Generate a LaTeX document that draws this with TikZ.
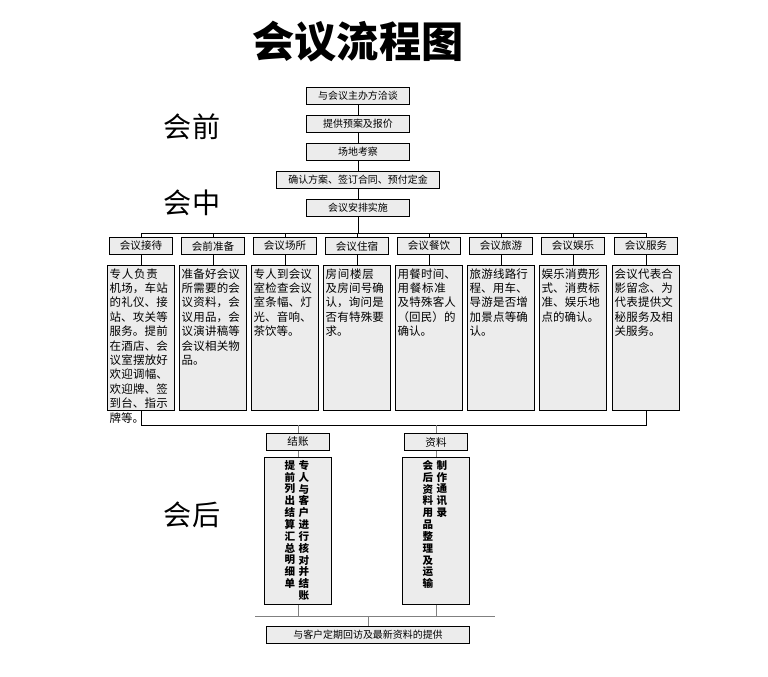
\documentclass[tikz,border=0pt]{standalone}
\usepackage{fontspec}
\setmainfont{Noto Sans CJK SC}
\XeTeXlinebreaklocale "zh"
\XeTeXlinebreakskip=0pt plus 1pt
\tikzset{
  stage/.style={draw=black, thick, fill=gray!15, minimum height=14pt, inner sep=1pt, font=\fontsize{8.5}{10}\selectfont},
  head/.style={draw=black, thick, fill=gray!15, minimum width=1.9cm, minimum height=14pt, inner sep=1pt, font=\fontsize{9}{10}\selectfont},
  body/.style={draw=black, thick, fill=gray!15, minimum width=2.0cm, minimum height=4.35cm, anchor=north, inner sep=0pt},
  bodytext/.style={text width=1.88cm, align=left, anchor=north, inner sep=1pt, font=\fontsize{9.8}{12.3}\selectfont},
  vcol/.style={anchor=north, align=center, inner sep=0pt, font=\fontsize{9}{10.1}\selectfont\bfseries},
  phase/.style={font=\fontsize{24}{26}\selectfont},
}
\begin{document}
\begin{tikzpicture}[x=0.03cm, y=-0.03cm]
  \useasboundingbox (0,0) rectangle (768,676);
  \node[font=\fontsize{36}{38}\selectfont\bfseries](title) at (358,42){会议流程图};
  \node[phase](pre) at (192,127){会前};
  \node[phase](mid) at (192,203){会中};
  \node[phase](post) at (192,515){会后};

  \node[stage, minimum width=3.1cm](s1) at (358,96){与会议主办方洽谈};
  \node[stage, minimum width=3.1cm](s2) at (358,124){提供预案及报价};
  \node[stage, minimum width=3.1cm](s3) at (358,152){场地考察};
  \node[stage, minimum width=4.9cm](s4) at (358,180){确认方案、签订合同、预付定金};
  \node[stage, minimum width=3.1cm](s5) at (358,208){会议安排实施};
  \draw[thick] (s1) -- (s2);
  \draw[thick] (s2) -- (s3);
  \draw[thick] (s3) -- (s4);
  \draw[thick] (s4) -- (s5);

  \coordinate (top) at (358,233);
  \draw[thick] (s5) -- (top);
  \draw[thick] (141,233) -- (646,233);

  \foreach \i/\x/\h/\t in {
    1/141/会议接待/{专人负责机场，车站的礼仪、接站、攻关等服务。提前在酒店、会议室摆放好欢迎调幅、欢迎牌、签到台、指示牌等。},
    2/213/会前准备/{准备好会议所需要的会议资料，会议用品，会议演讲稿等会议相关物品。},
    3/285/会议场所/{专人到会议室检查会议室条幅、灯光、音响、茶饮等。},
    4/357/会议住宿/{房间楼层及房间号确认，询问是否有特殊要求。},
    5/429/会议餐饮/{用餐时间、用餐标准及特殊客人（回民）的确认。},
    6/501/会议旅游/{旅游线路行程、用车、导游是否增加景点等确认。},
    7/573/会议娱乐/{娱乐消费形式、消费标准、娱乐地点的确认。},
    8/646/会议服务/{会议代表合影留念、为代表提供文秘服务及相关服务。}} {
    \node[head](h\i) at (\x,246){\h};
    \node[body](b\i) at (\x,265){};
    \node[bodytext](t\i) at (\x,267){\t};
    \draw[thick] (\x,233) -- (h\i.north);
    \draw[thick] (h\i) -- (b\i);
  }
  \draw[thick] (b1.south) -- (141,425) -- (646,425) -- (b8.south);

  % after the meeting
  \node[head](h9) at (298,442){结账};
  \node[head](h10) at (436,442){资料};
  \node[body, minimum height=4.4cm](b9) at (298,457){};
  \node[body, minimum height=4.4cm](b10) at (436,457){};
  \node[vcol](c9a) at (304,460){专\\人\\与\\客\\户\\进\\行\\核\\对\\并\\结\\账};
  \node[vcol](c9b) at (290,460){提\\前\\列\\出\\结\\算\\汇\\总\\明\\细\\单};
  \node[vcol](c10a) at (442,460){制\\作\\通\\讯\\录};
  \node[vcol](c10b) at (428,460){会\\后\\资\\料\\用\\品\\整\\理\\及\\运\\输};
  \draw[thick, gray] (298,425) -- (h9);
  \draw[thick, gray] (436,425) -- (h10);
  \draw[gray] (h9) -- (b9);
  \draw[gray] (h10) -- (b10);

  \node[stage, minimum width=6.1cm](end) at (368,635){与客户定期回访及最新资料的提供};
  \draw[gray, thick] (255,616) -- (495,616);
  \draw[gray] (b9.south) -- (298,616);
  \draw[gray] (b10.south) -- (436,616);
  \draw[gray] (368,616) -- (end);
\end{tikzpicture}
\end{document}
